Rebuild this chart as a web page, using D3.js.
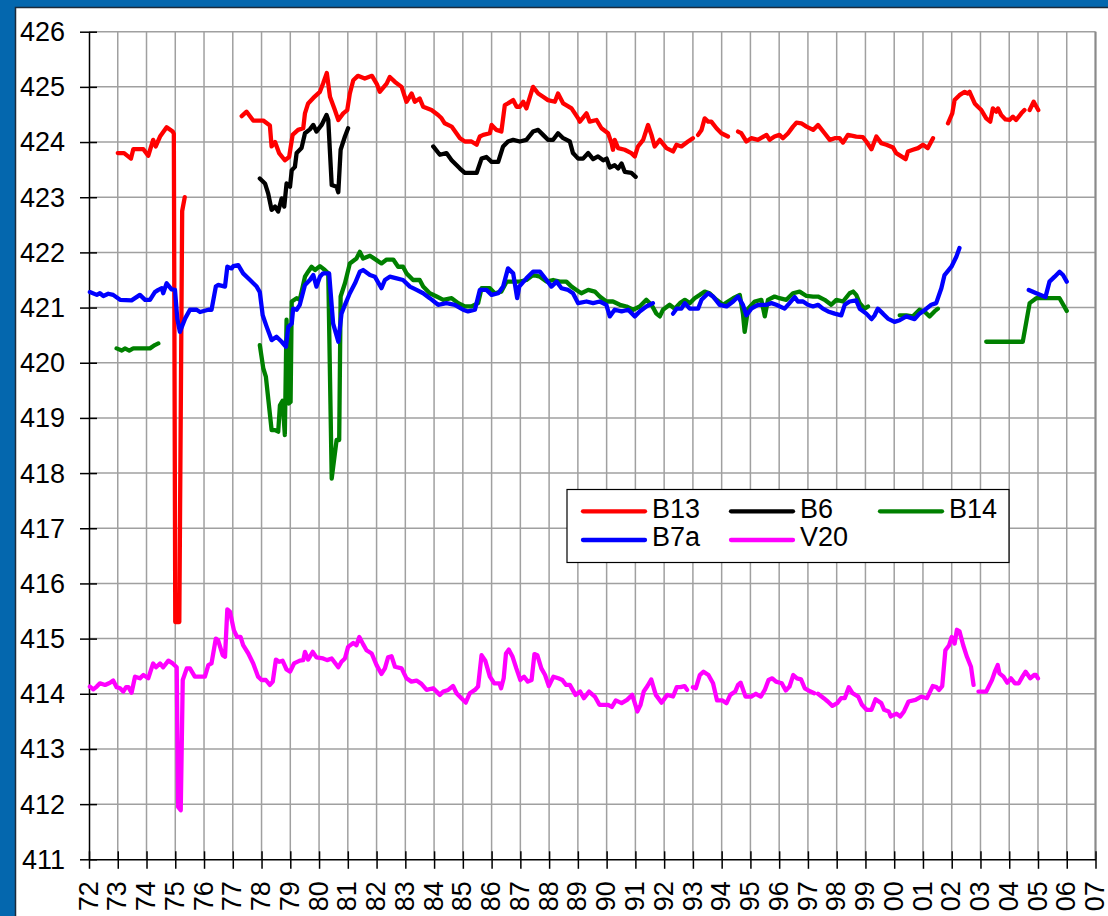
<!DOCTYPE html>
<html><head><meta charset="utf-8">
<script src="https://cdn.jsdelivr.net/npm/d3@7"></script>
<style>html,body{margin:0;padding:0;background:#fff;} svg{display:block;font-family:"Liberation Sans",Arial,sans-serif;}</style>
</head><body><svg id="c" width="1108" height="916"></svg>
<script>
const yearTicks = d3.range(72, 108);
const yearLabels = yearTicks.map(d => String(d % 100).padStart(2, "0"));
const valueTicks = d3.range(411, 427);
const seriesNames = ["B13", "B6", "B14", "B7a", "V20"];
const seriesColors = ["#ff0000", "#000000", "#008000", "#0000ff", "#ff00ff"];

const B13 = [[73.0,423.8],[73.22,423.8],[73.46,423.7],[73.54,423.87],[73.89,423.87],[74.06,423.75],[74.23,424.04],[74.32,423.92],[74.47,424.1],[74.7,424.27],[74.91,424.19],[74.95,424.15],[75.0,415.3],[75.14,415.3],[75.24,422.75],[75.33,423.0],[75.4,null],
[77.31,424.47],[77.48,424.55],[77.71,424.39],[78.06,424.39],[78.29,424.3],[78.35,423.92],[78.47,424.0],[78.61,423.8],[78.81,423.67],[78.96,423.73],[79.08,424.13],[79.27,424.22],[79.45,424.25],[79.51,424.52],[79.62,424.7],[79.8,424.8],[80.03,424.91],[80.14,425.06],[80.27,425.25],[80.38,424.82],[80.55,424.58],[80.67,424.4],[80.84,424.52],[80.98,424.58],[81.07,424.88],[81.19,425.12],[81.35,425.2],[81.59,425.15],[81.84,425.2],[82.01,425.05],[82.11,424.91],[82.35,425.06],[82.46,425.18],[82.64,425.09],[82.87,425.0],[83.04,424.73],[83.22,424.88],[83.33,424.73],[83.5,424.79],[83.62,424.64],[83.91,424.58],[84.14,424.49],[84.26,424.43],[84.37,424.34],[84.61,424.28],[84.9,424.07],[85.07,424.01],[85.3,424.01],[85.48,423.95],[85.59,424.1],[85.71,424.13],[85.94,424.16],[86.0,424.31],[86.17,424.22],[86.34,424.19],[86.46,424.67],[86.57,424.7],[86.75,424.76],[86.87,424.64],[86.98,424.64],[87.1,424.73],[87.21,424.61],[87.44,425.0],[87.62,424.88],[87.79,424.82],[87.96,424.76],[88.2,424.73],[88.31,424.88],[88.49,424.7],[88.78,424.61],[89.01,424.43],[89.07,424.37],[89.3,424.52],[89.41,424.37],[89.65,424.4],[89.82,424.25],[90.05,424.16],[90.17,423.98],[90.22,423.86],[90.28,424.04],[90.4,423.89],[90.63,423.86],[90.86,423.8],[90.98,423.74],[91.09,423.92],[91.27,424.04],[91.44,424.31],[91.56,424.13],[91.67,423.92],[91.85,424.04],[92.08,423.89],[92.31,423.83],[92.43,423.95],[92.6,423.92],[92.83,424.01],[93.0,424.07],[93.09,null],
[93.18,424.13],[93.3,424.22],[93.41,424.43],[93.53,424.37],[93.64,424.37],[93.82,424.25],[93.99,424.16],[94.22,424.1],[94.4,null],
[94.57,424.19],[94.68,424.16],[94.86,424.01],[95.03,424.07],[95.26,424.04],[95.56,424.13],[95.67,424.04],[95.84,424.1],[96.01,424.13],[96.13,424.07],[96.31,424.16],[96.48,424.28],[96.6,424.35],[96.77,424.34],[96.95,424.28],[97.18,424.22],[97.35,424.31],[97.58,424.16],[97.76,424.04],[97.93,424.07],[98.1,424.07],[98.22,423.99],[98.39,424.13],[98.68,424.1],[98.91,424.09],[99.03,424.01],[99.21,423.87],[99.38,424.1],[99.55,423.98],[99.73,423.95],[99.96,423.9],[100.07,423.8],[100.25,423.74],[100.4,423.69],[100.48,423.83],[100.65,423.86],[100.83,423.89],[101.0,423.95],[101.17,423.89],[101.35,424.07],[101.6,null],
[101.87,424.34],[102.02,424.52],[102.1,424.76],[102.27,424.85],[102.45,424.91],[102.56,424.88],[102.62,424.91],[102.8,424.7],[102.91,424.64],[103.03,424.58],[103.2,424.43],[103.34,424.37],[103.43,424.61],[103.55,424.55],[103.61,424.61],[103.72,424.49],[103.87,424.41],[104.01,424.4],[104.13,424.46],[104.24,424.4],[104.42,424.52],[104.53,424.58],[104.62,null],
[104.71,424.58],[104.85,424.73],[105.01,424.58]];

const B6 = [[77.94,423.34],[78.12,423.25],[78.23,423.07],[78.35,422.77],[78.47,422.83],[78.58,422.74],[78.7,422.98],[78.79,422.83],[78.87,423.25],[78.99,423.19],[79.05,423.49],[79.16,423.55],[79.22,423.8],[79.39,423.89],[79.51,424.16],[79.68,424.23],[79.8,424.31],[79.91,424.19],[80.09,424.31],[80.26,424.49],[80.32,424.4],[80.44,423.22],[80.61,423.19],[80.67,423.09],[80.75,423.86],[80.9,424.1],[81.01,424.25],[82.0,null],
[83.97,423.92],[84.2,423.77],[84.43,423.8],[84.61,423.67],[84.9,423.52],[85.07,423.44],[85.48,423.44],[85.65,423.7],[85.82,423.73],[86.0,423.64],[86.23,423.64],[86.4,423.92],[86.57,424.01],[86.75,424.04],[86.98,424.01],[87.21,424.04],[87.44,424.19],[87.62,424.22],[87.79,424.13],[87.96,424.04],[88.14,424.04],[88.31,424.16],[88.49,424.07],[88.72,424.01],[88.83,423.8],[89.01,423.7],[89.18,423.7],[89.36,423.8],[89.53,423.69],[89.7,423.74],[89.88,423.67],[90.0,423.7],[90.11,423.54],[90.28,423.58],[90.4,423.52],[90.52,423.61],[90.63,423.46],[90.86,423.44],[91.01,423.37]];

const B14 = [[72.96,420.26],[73.14,420.22],[73.25,420.26],[73.4,420.22],[73.54,420.26],[74.12,420.26],[74.29,420.32],[74.41,420.35],[75.0,null],
[77.94,420.32],[78.06,419.9],[78.15,419.75],[78.35,418.78],[78.47,418.78],[78.58,418.75],[78.64,419.23],[78.73,419.31],[78.81,418.69],[78.87,420.78],[78.94,419.26],[79.01,419.29],[79.05,421.11],[79.22,421.17],[79.33,421.14],[79.51,421.56],[79.62,421.65],[79.74,421.74],[79.86,421.68],[80.03,421.75],[80.2,421.68],[80.32,421.62],[80.44,417.9],[80.61,418.6],[80.7,418.6],[80.75,421.2],[80.9,421.44],[81.07,421.8],[81.3,421.89],[81.42,422.01],[81.53,421.89],[81.77,421.94],[82.0,421.86],[82.17,421.8],[82.35,421.87],[82.58,421.87],[82.75,421.74],[82.92,421.74],[83.04,421.62],[83.27,421.5],[83.5,421.5],[83.62,421.38],[83.85,421.26],[84.09,421.2],[84.32,421.14],[84.61,421.17],[84.84,421.08],[85.07,421.02],[85.3,421.02],[85.53,421.08],[85.65,421.35],[85.94,421.35],[86.11,421.26],[86.34,421.29],[86.52,421.47],[86.75,421.47],[86.98,421.47],[87.21,421.5],[87.44,421.59],[87.68,421.56],[87.91,421.47],[88.14,421.5],[88.37,421.47],[88.6,421.47],[88.78,421.38],[88.95,421.32],[89.12,421.26],[89.36,421.32],[89.59,421.29],[89.76,421.2],[89.99,421.11],[90.22,421.11],[90.46,421.05],[90.69,421.02],[90.92,420.96],[91.15,421.02],[91.38,421.14],[91.56,421.05],[91.73,420.89],[91.85,420.84],[91.96,420.96],[92.19,421.05],[92.37,420.98],[92.55,421.08],[92.72,421.14],[92.89,421.08],[93.06,421.17],[93.24,421.23],[93.41,421.29],[93.58,421.26],[93.82,421.14],[94.05,421.05],[94.22,421.11],[94.4,421.17],[94.63,421.23],[94.74,420.89],[94.8,420.56],[94.92,420.98],[95.15,421.11],[95.38,421.14],[95.5,420.84],[95.61,421.14],[95.84,421.2],[96.01,421.17],[96.25,421.14],[96.48,421.26],[96.71,421.29],[96.95,421.21],[97.18,421.2],[97.35,421.2],[97.58,421.14],[97.81,421.05],[97.99,421.14],[98.22,421.11],[98.45,421.26],[98.57,421.29],[98.68,421.23],[98.8,421.08],[98.97,420.98],[99.09,421.02],[99.6,null],
[100.19,420.86],[100.42,420.86],[100.65,420.84],[100.88,420.96],[101.05,420.93],[101.23,420.84],[101.4,420.93],[101.52,420.98],[102.5,null],
[103.2,420.38],[104.47,420.38],[104.71,421.08],[104.94,421.17],[105.75,421.17],[106.0,420.94]];

const B7a = [[72.03,421.28],[72.27,421.23],[72.38,421.26],[72.5,421.21],[72.67,421.25],[72.84,421.23],[73.08,421.14],[73.48,421.13],[73.77,421.23],[73.95,421.14],[74.12,421.14],[74.29,421.28],[74.41,421.32],[74.53,421.35],[74.58,421.26],[74.7,421.44],[74.87,421.33],[74.99,421.32],[75.07,420.8],[75.16,420.56],[75.34,420.8],[75.51,420.96],[75.74,420.96],[75.86,420.92],[76.15,420.96],[76.26,420.96],[76.41,421.38],[76.49,421.41],[76.73,421.38],[76.81,421.74],[76.96,421.71],[77.02,421.75],[77.19,421.77],[77.36,421.62],[77.6,421.5],[77.83,421.38],[77.94,421.28],[78.04,420.86],[78.18,420.65],[78.35,420.41],[78.52,420.47],[78.7,420.38],[78.85,420.29],[78.93,420.65],[79.05,420.71],[79.1,420.98],[79.22,420.96],[79.33,421.05],[79.51,421.41],[79.68,421.5],[79.8,421.59],[79.91,421.38],[80.03,421.56],[80.14,421.62],[80.35,421.62],[80.49,420.71],[80.67,420.38],[80.78,420.89],[80.9,421.05],[81.07,421.26],[81.25,421.44],[81.42,421.65],[81.53,421.68],[81.77,421.59],[81.94,421.56],[82.17,421.35],[82.29,421.5],[82.46,421.56],[82.7,421.53],[82.92,421.5],[83.16,421.38],[83.39,421.32],[83.62,421.26],[83.85,421.17],[84.14,421.05],[84.43,421.08],[84.72,421.05],[85.01,420.96],[85.18,420.93],[85.42,420.96],[85.59,421.32],[85.82,421.32],[86.0,421.23],[86.23,421.26],[86.4,421.38],[86.57,421.71],[86.75,421.62],[86.89,421.17],[86.96,421.38],[87.21,421.53],[87.44,421.65],[87.68,421.65],[87.91,421.5],[88.08,421.38],[88.26,421.47],[88.43,421.35],[88.66,421.32],[88.83,421.26],[89.01,421.08],[89.3,421.11],[89.53,421.08],[89.76,421.11],[89.99,421.05],[90.11,420.84],[90.28,420.96],[90.52,420.93],[90.75,420.96],[90.98,420.84],[91.15,420.93],[91.38,421.02],[91.61,421.08],[92.0,null],
[92.31,420.89],[92.43,420.98],[92.6,420.98],[92.72,421.08],[92.89,420.98],[93.18,420.98],[93.3,421.14],[93.53,421.26],[93.7,421.2],[93.93,421.05],[94.17,421.02],[94.4,421.11],[94.57,421.2],[94.74,421.05],[94.86,420.86],[95.03,420.98],[95.26,421.05],[95.56,421.05],[95.73,421.08],[95.9,421.05],[96.19,420.98],[96.36,421.08],[96.54,421.19],[96.65,421.11],[96.83,421.11],[97.0,421.05],[97.18,421.02],[97.35,421.05],[97.52,420.98],[97.7,420.93],[97.93,420.89],[98.16,420.86],[98.28,421.05],[98.45,421.11],[98.68,421.13],[98.8,420.98],[99.03,420.89],[99.21,420.79],[99.32,420.86],[99.43,420.98],[99.61,420.89],[99.78,420.8],[100.01,420.74],[100.19,420.77],[100.42,420.84],[100.71,420.79],[100.88,420.89],[101.12,420.98],[101.29,421.05],[101.46,421.08],[101.64,421.35],[101.75,421.59],[101.99,421.74],[102.16,421.92],[102.27,422.08],[103.0,null],
[104.68,421.32],[104.94,421.26],[105.26,421.19],[105.4,421.47],[105.58,421.56],[105.75,421.65],[105.87,421.59],[106.0,421.47]];

const V20 = [[72.03,414.13],[72.15,414.08],[72.27,414.13],[72.38,414.19],[72.56,414.16],[72.73,414.2],[72.84,414.24],[72.96,414.12],[73.08,414.1],[73.19,414.04],[73.29,414.12],[73.37,414.12],[73.48,414.02],[73.6,414.31],[73.77,414.28],[73.89,414.34],[74.06,414.28],[74.23,414.55],[74.33,414.48],[74.47,414.55],[74.58,414.48],[74.76,414.6],[74.91,414.55],[75.05,414.48],[75.1,411.95],[75.19,411.89],[75.26,414.25],[75.4,414.46],[75.51,414.46],[75.68,414.31],[76.03,414.31],[76.15,414.52],[76.26,414.55],[76.41,415.0],[76.49,414.97],[76.65,414.7],[76.73,414.67],[76.81,415.53],[76.9,415.49],[77.04,415.15],[77.15,415.03],[77.27,415.03],[77.36,414.88],[77.54,414.73],[77.71,414.55],[77.88,414.31],[78.0,414.25],[78.15,414.25],[78.29,414.16],[78.39,414.22],[78.5,414.62],[78.61,414.58],[78.73,414.6],[78.87,414.44],[78.99,414.4],[79.13,414.55],[79.33,414.6],[79.45,414.61],[79.51,414.76],[79.62,414.62],[79.78,414.76],[79.91,414.66],[80.14,414.64],[80.28,414.61],[80.44,414.64],[80.67,414.48],[80.78,414.58],[80.9,414.64],[81.01,414.85],[81.19,414.92],[81.3,414.88],[81.4,415.03],[81.53,414.9],[81.65,414.79],[81.83,414.73],[82.0,414.52],[82.17,414.36],[82.29,414.46],[82.4,414.66],[82.52,414.68],[82.64,414.49],[82.87,414.46],[83.04,414.28],[83.21,414.22],[83.39,414.24],[83.56,414.18],[83.74,414.07],[83.97,414.1],[84.2,413.98],[84.32,414.04],[84.49,414.07],[84.66,414.14],[84.78,414.01],[84.95,413.92],[85.1,413.84],[85.24,414.01],[85.42,414.07],[85.53,414.13],[85.65,414.7],[85.78,414.6],[85.94,414.31],[86.09,414.19],[86.27,414.19],[86.33,414.1],[86.42,414.28],[86.5,414.73],[86.6,414.8],[86.73,414.67],[86.86,414.46],[87.0,414.25],[87.13,414.31],[87.26,414.22],[87.39,414.25],[87.49,414.72],[87.59,414.7],[87.73,414.46],[87.86,414.34],[87.99,414.14],[88.15,414.31],[88.32,414.28],[88.46,414.25],[88.59,414.16],[88.72,414.16],[88.92,413.98],[89.08,414.04],[89.21,413.92],[89.39,414.04],[89.59,413.95],[89.75,413.8],[90.05,413.8],[90.18,413.76],[90.32,413.88],[90.52,413.83],[90.71,413.89],[90.89,413.98],[90.98,413.83],[91.07,413.68],[91.18,413.8],[91.29,414.04],[91.42,414.14],[91.55,414.26],[91.71,413.98],[91.91,413.84],[92.11,413.98],[92.31,413.95],[92.44,414.12],[92.57,414.12],[92.71,414.14],[92.8,414.07],[92.9,null],
[93.0,414.12],[93.1,414.1],[93.24,414.34],[93.37,414.4],[93.54,414.34],[93.7,414.19],[93.84,413.88],[94.03,413.88],[94.17,413.83],[94.3,413.98],[94.47,414.04],[94.57,414.16],[94.66,414.2],[94.83,413.95],[95.03,413.95],[95.19,414.0],[95.36,413.95],[95.5,414.07],[95.63,414.25],[95.76,414.28],[95.89,414.22],[96.09,414.19],[96.23,414.06],[96.36,414.13],[96.49,414.34],[96.62,414.28],[96.76,414.26],[96.89,414.1],[97.09,414.04],[97.22,414.01],[97.28,null],
[97.35,414.0],[97.55,413.92],[97.69,413.86],[97.85,413.78],[98.02,413.83],[98.15,413.92],[98.28,413.92],[98.42,414.12],[98.55,414.01],[98.75,413.95],[98.88,413.8],[99.04,413.71],[99.21,413.71],[99.35,413.9],[99.55,413.83],[99.65,413.71],[99.81,413.68],[99.88,413.59],[100.08,413.64],[100.21,413.59],[100.34,413.68],[100.5,413.86],[100.74,413.89],[100.94,413.95],[101.14,413.92],[101.34,414.14],[101.47,414.12],[101.56,414.07],[101.67,414.14],[101.78,414.79],[101.91,414.88],[102.0,415.03],[102.1,414.91],[102.18,415.16],[102.27,415.13],[102.4,414.88],[102.53,414.67],[102.67,414.49],[102.76,414.16],[102.85,null],
[102.93,414.04],[103.2,414.04],[103.4,414.25],[103.5,414.4],[103.6,414.52],[103.66,414.37],[103.8,414.31],[103.93,414.2],[104.06,414.28],[104.2,414.19],[104.33,414.19],[104.46,414.31],[104.57,414.4],[104.73,414.28],[104.86,414.34],[104.93,414.34],[105.0,414.28]];

const seriesData = [B13, B6, B14, B7a, V20];

const svg = d3.select("#c");
const W = 1108, H = 916;
const plot = {left: 89, right: 1095.5, top: 31.7, bottom: 859.3};

// frame
svg.append("rect").attr("x", 0).attr("y", 0).attr("width", W).attr("height", H).attr("fill", "#0467ae");
svg.append("rect").attr("x", 15.5).attr("y", 7.5).attr("width", W + 10).attr("height", H + 10)
  .attr("fill", "#ffffff").attr("stroke", "#1b2a3a").attr("stroke-width", 1.5);

const x = d3.scaleLinear().domain([72, 107]).range([plot.left, plot.right]);
const y = d3.scaleLinear().domain([411, 426]).range([plot.bottom, plot.top]);

// grid
const grid = svg.append("g");
grid.selectAll(".vg").data(yearTicks.slice(1)).join("line")
  .attr("x1", d => x(d)).attr("x2", d => x(d)).attr("y1", plot.top).attr("y2", plot.bottom)
  .attr("stroke", "#a0a0a0").attr("stroke-width", 1.5);
grid.selectAll(".hg").data(valueTicks.slice(1)).join("line")
  .attr("x1", plot.left).attr("x2", plot.right).attr("y1", d => y(d)).attr("y2", d => y(d))
  .attr("stroke", "#a0a0a0").attr("stroke-width", 1.5);
grid.append("line").attr("x1", plot.right).attr("x2", plot.right).attr("y1", plot.top).attr("y2", plot.bottom)
  .attr("stroke", "#8a8a8a").attr("stroke-width", 2);

// axes
const yAxis = svg.append("g").attr("transform", `translate(${plot.left},0)`)
  .call(d3.axisLeft(y).tickValues(valueTicks).tickFormat(d3.format("d")).tickSizeOuter(0));
yAxis.select(".domain").attr("stroke", "#000").attr("stroke-width", 1.5);
yAxis.selectAll(".tick line").attr("x1", -9).attr("x2", 8).attr("stroke", "#000").attr("stroke-width", 1.5);
yAxis.selectAll(".tick text").attr("x", -24).attr("dy", "0.33em")
  .style("font-size", "27px").style("font-family", '"Liberation Sans", Arial, sans-serif').attr("fill", "#000");

const xAxis = svg.append("g").attr("transform", `translate(0,${plot.bottom})`)
  .call(d3.axisBottom(x).tickValues(yearTicks).tickFormat((d, i) => yearLabels[i]).tickSizeOuter(0));
xAxis.select(".domain").attr("stroke", "#000").attr("stroke-width", 1.5);
xAxis.selectAll(".tick line").attr("y1", -8).attr("y2", 9.5).attr("stroke", "#000").attr("stroke-width", 1.5);
xAxis.selectAll(".tick text").attr("y", 0).attr("x", -22).attr("dy", "0.3em")
  .attr("transform", "rotate(-90)").style("text-anchor", "end")
  .style("font-size", "27px").style("font-family", '"Liberation Sans", Arial, sans-serif').attr("fill", "#000");

// series
const line = d3.line().defined(d => d[1] != null).x(d => x(d[0])).y(d => y(d[1]));
const gS = svg.append("g");
seriesData.forEach((s, i) => {
  gS.append("path").datum(s).attr("d", line).attr("fill", "none")
    .attr("stroke", seriesColors[i]).attr("stroke-width", 4.3)
    .attr("stroke-linejoin", "round").attr("stroke-linecap", "round");
});

// legend
const lg = svg.append("g");
lg.append("rect").attr("x", 567).attr("y", 489.5).attr("width", 442).attr("height", 73)
  .attr("fill", "#fff").attr("stroke", "#000").attr("stroke-width", 1.2);
const colX = [583, 731, 880];
const rowY = [511.3, 540];
seriesNames.forEach((n, i) => {
  const cx = colX[i % 3], cy = rowY[Math.floor(i / 3)];
  lg.append("line").attr("x1", cx).attr("x2", cx + 62).attr("y1", cy).attr("y2", cy)
    .attr("stroke", seriesColors[i]).attr("stroke-width", 4.3).attr("stroke-linecap", "round");
  lg.append("text").attr("x", cx + 69).attr("y", cy).attr("dy", "0.24em")
    .style("font-size", "27px").text(n);
});
</script>
</body></html>
